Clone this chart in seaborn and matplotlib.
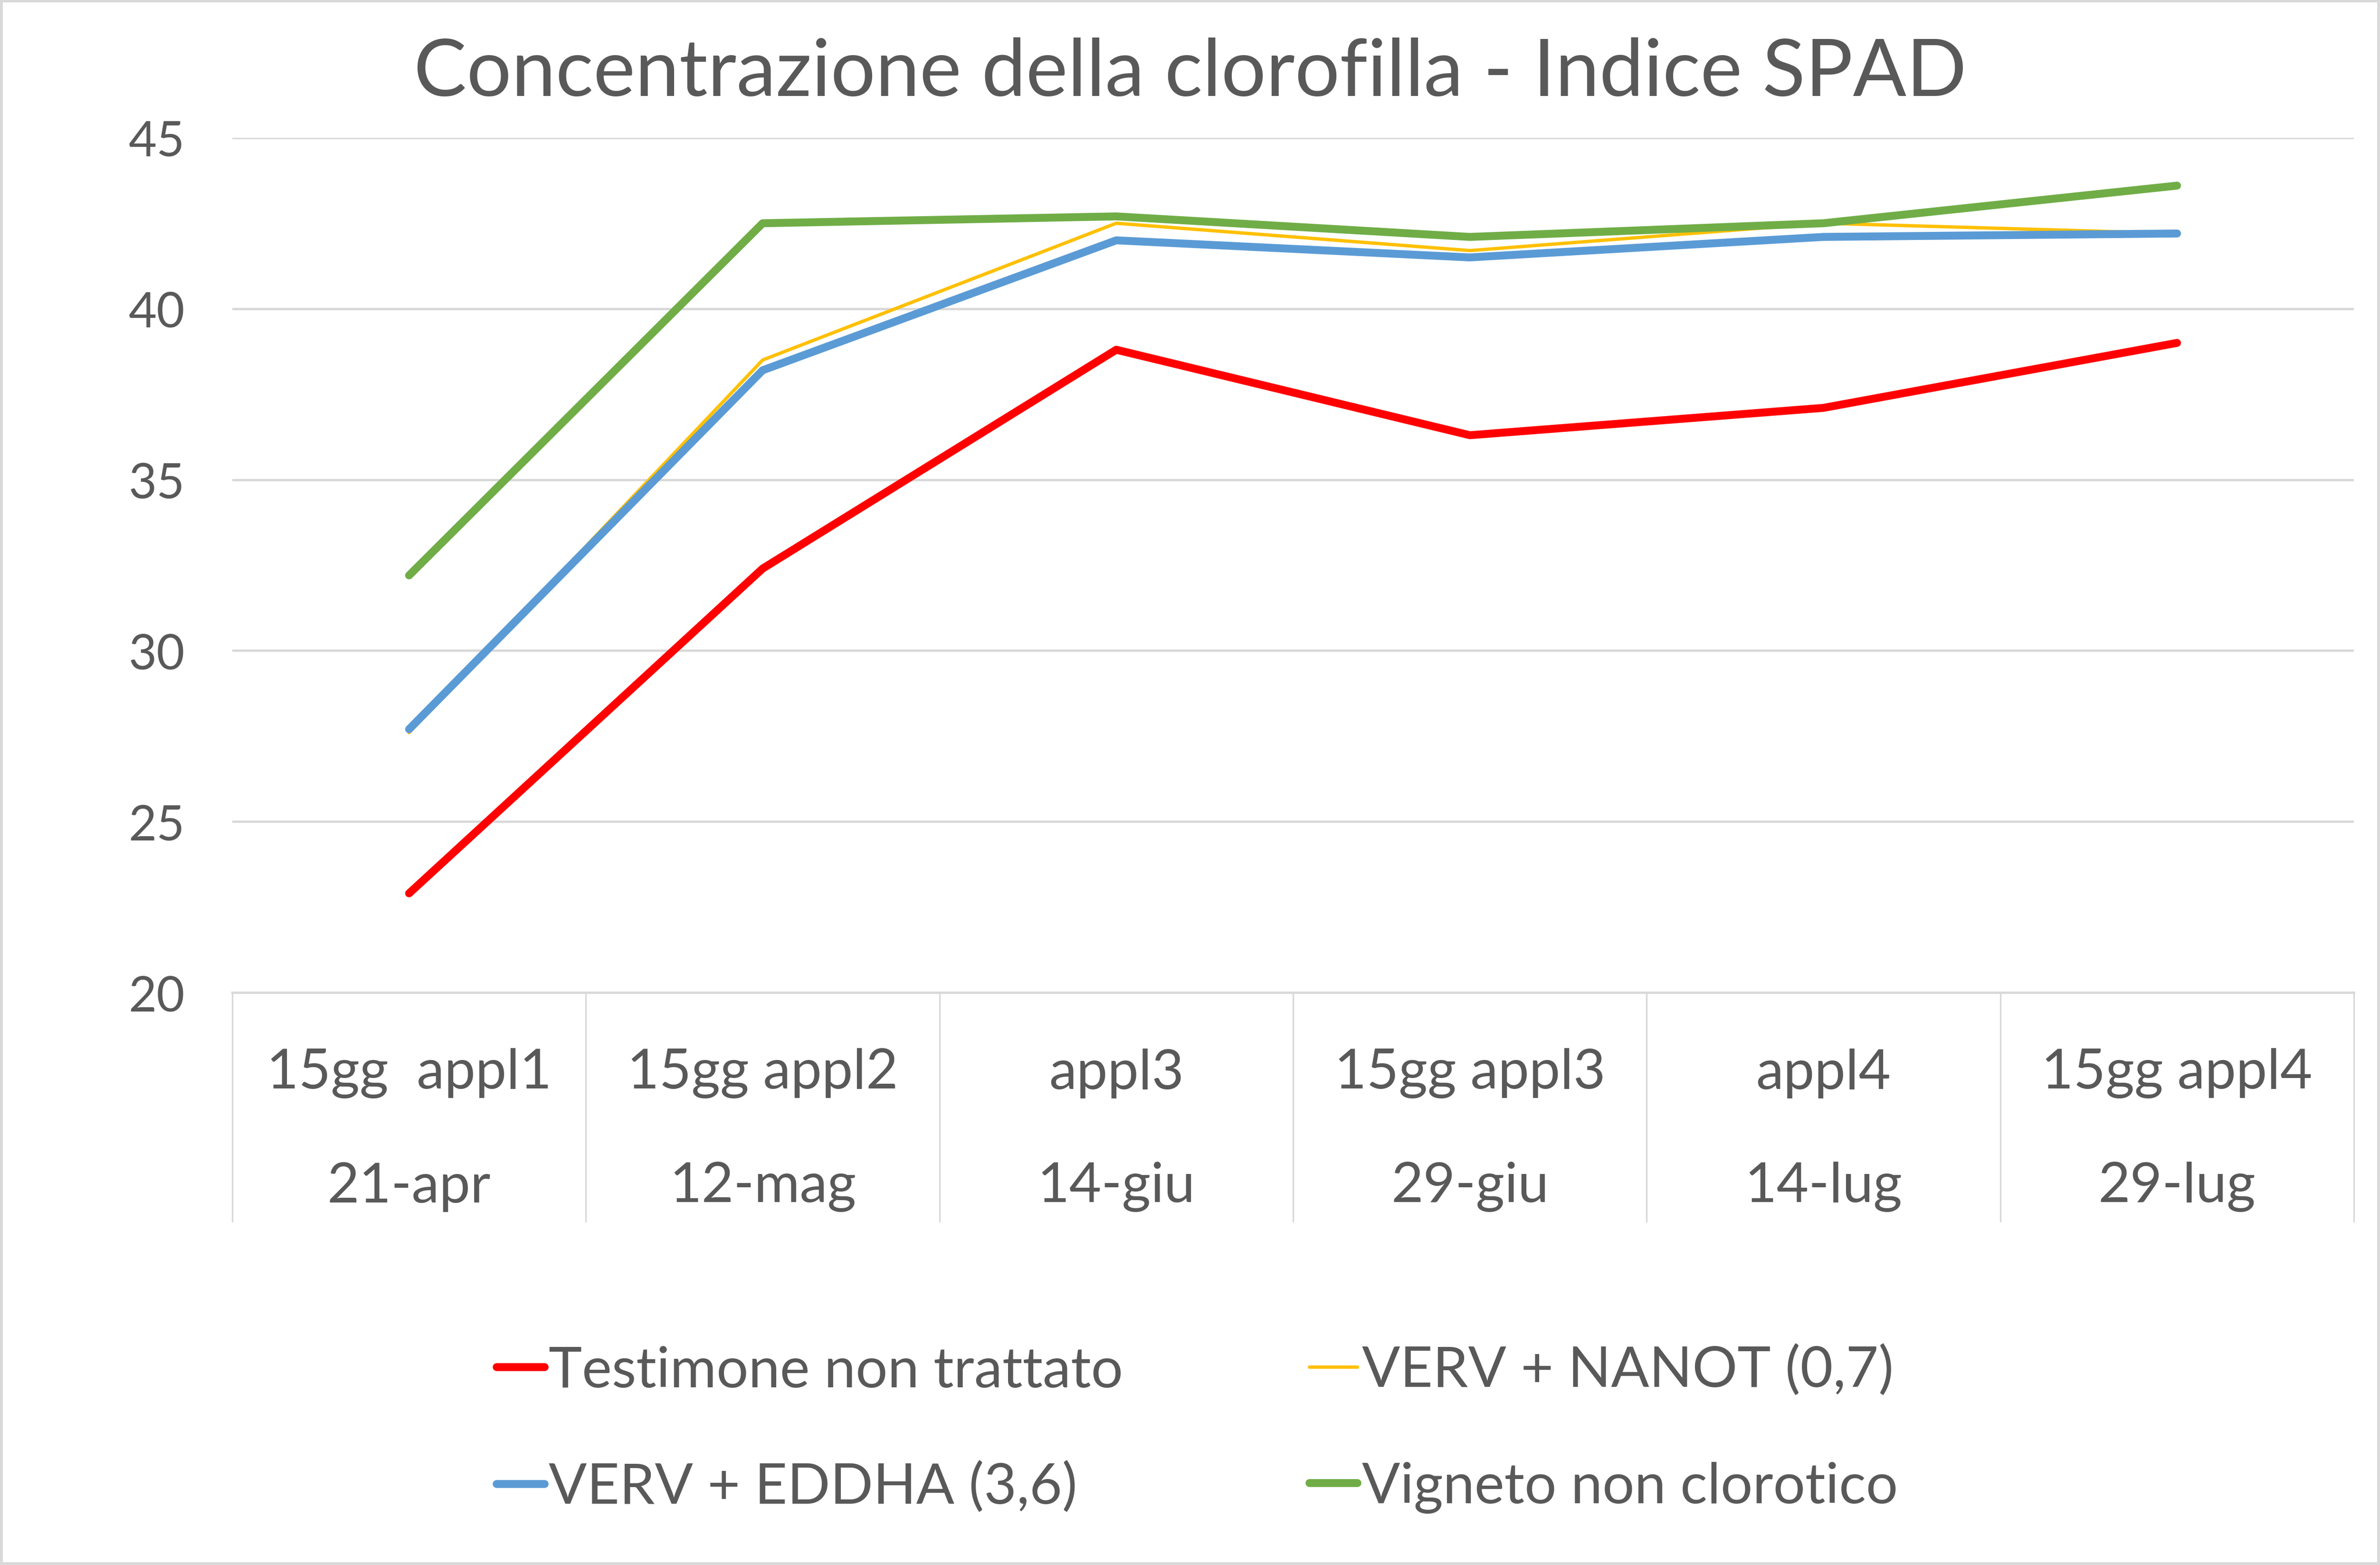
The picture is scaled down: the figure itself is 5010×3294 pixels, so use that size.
import numpy as np
import pandas as pd
import seaborn as sns
import matplotlib.pyplot as plt
import matplotlib.transforms as mtransforms

# categories (two-level axis labels)
phase = ["15gg  appl1", "15gg appl2", "appl3", "15gg appl3", "appl4", "15gg appl4"]
dates = ["21-apr", "12-mag", "14-giu", "29-giu", "14-lug", "29-lug"]

# series values
testimone = [22.9, 32.4, 38.8, 36.3, 37.1, 39.0]
verv_nanot = [27.6, 38.5, 42.5, 41.7, 42.5, 42.2]
verv_eddha = [27.7, 38.2, 42.0, 41.5, 42.1, 42.2]
vigneto = [32.2, 42.5, 42.7, 42.1, 42.5, 43.6]

series_names = ["Testimone non trattato", "VERV + NANOT (0,7)",
                "VERV + EDDHA (3,6)", "Vigneto non clorotico"]
series_vals = [testimone, verv_nanot, verv_eddha, vigneto]
colors = ["#FF0000", "#FFC000", "#5B9BD5", "#70AD47"]
widths = [4.0, 1.7, 4.0, 4.0]

yticks = [20, 25, 30, 35, 40, 45]

rows = []
for name, vals in zip(series_names, series_vals):
    for i, v in enumerate(vals):
        rows.append((i, v, name))
df = pd.DataFrame(rows, columns=["pos", "spad", "serie"])

sns.set_theme(style="white")
plt.rcParams['font.family'] = ['Lato', 'DejaVu Sans']
txt = "#595959"
grid = "#D9D9D9"

fig = plt.figure(figsize=(16.7, 10.9833), dpi=300, linewidth=2.5, edgecolor=grid)
ax = fig.add_axes([0.0976, 0.3657, 0.8914, 0.546])

for name, c, w in zip(series_names, colors, widths):
    sns.lineplot(data=df[df["serie"] == name], x="pos", y="spad", color=c,
                 linewidth=w, label=name, ax=ax, legend=False,
                 solid_capstyle="round", solid_joinstyle="round")

ax.set_xlim(-0.5, 5.5)
ax.set_ylim(20, 45)
ax.set_yticks(yticks)
ax.set_yticklabels([str(t) for t in yticks], fontsize=24.5, color=txt)
ax.tick_params(axis="y", length=0, pad=24)
ax.set_xticks([])
ax.set_xlabel("")
ax.set_ylabel("")
for t in yticks[1:]:
    ax.axhline(t, color=grid, lw=1.2, zorder=0)
for s in ["top", "right", "left"]:
    ax.spines[s].set_visible(False)
ax.spines["bottom"].set_color(grid)
ax.spines["bottom"].set_linewidth(1.2)

# multi-level category box under the axis
trans = mtransforms.blended_transform_factory(ax.transData, ax.transAxes)
box_bottom = -0.268
for k in range(len(phase) + 1):
    ax.plot([k - 0.5, k - 0.5], [0, box_bottom], transform=trans, color=grid,
            lw=0.8, clip_on=False)
for i, (p, d) in enumerate(zip(phase, dates)):
    ax.text(i, -0.094, p, transform=trans, ha="center", va="center",
            fontsize=28, color=txt)
    ax.text(i, -0.227, d, transform=trans, ha="center", va="center",
            fontsize=28, color=txt)

fig.suptitle("Concentrazione della clorofilla - Indice SPAD", x=0.5,
             y=0.953, va="center", fontsize=40, color=txt)

# legend fills row-wise in the original: red, yellow / blue, green
handles, labels = ax.get_legend_handles_labels()
order = [0, 2, 1, 3]
leg = fig.legend([handles[i] for i in order], [labels[i] for i in order],
                 ncol=2, loc="center", bbox_to_anchor=(0.503, 0.087),
                 frameon=False, fontsize=28.5, handlelength=0.85, handletextpad=0.08,
                 columnspacing=3.3, labelspacing=1.15)
for t in leg.get_texts():
    t.set_color(txt)

fig.savefig("out.png", dpi=300, facecolor="white", edgecolor=grid)
